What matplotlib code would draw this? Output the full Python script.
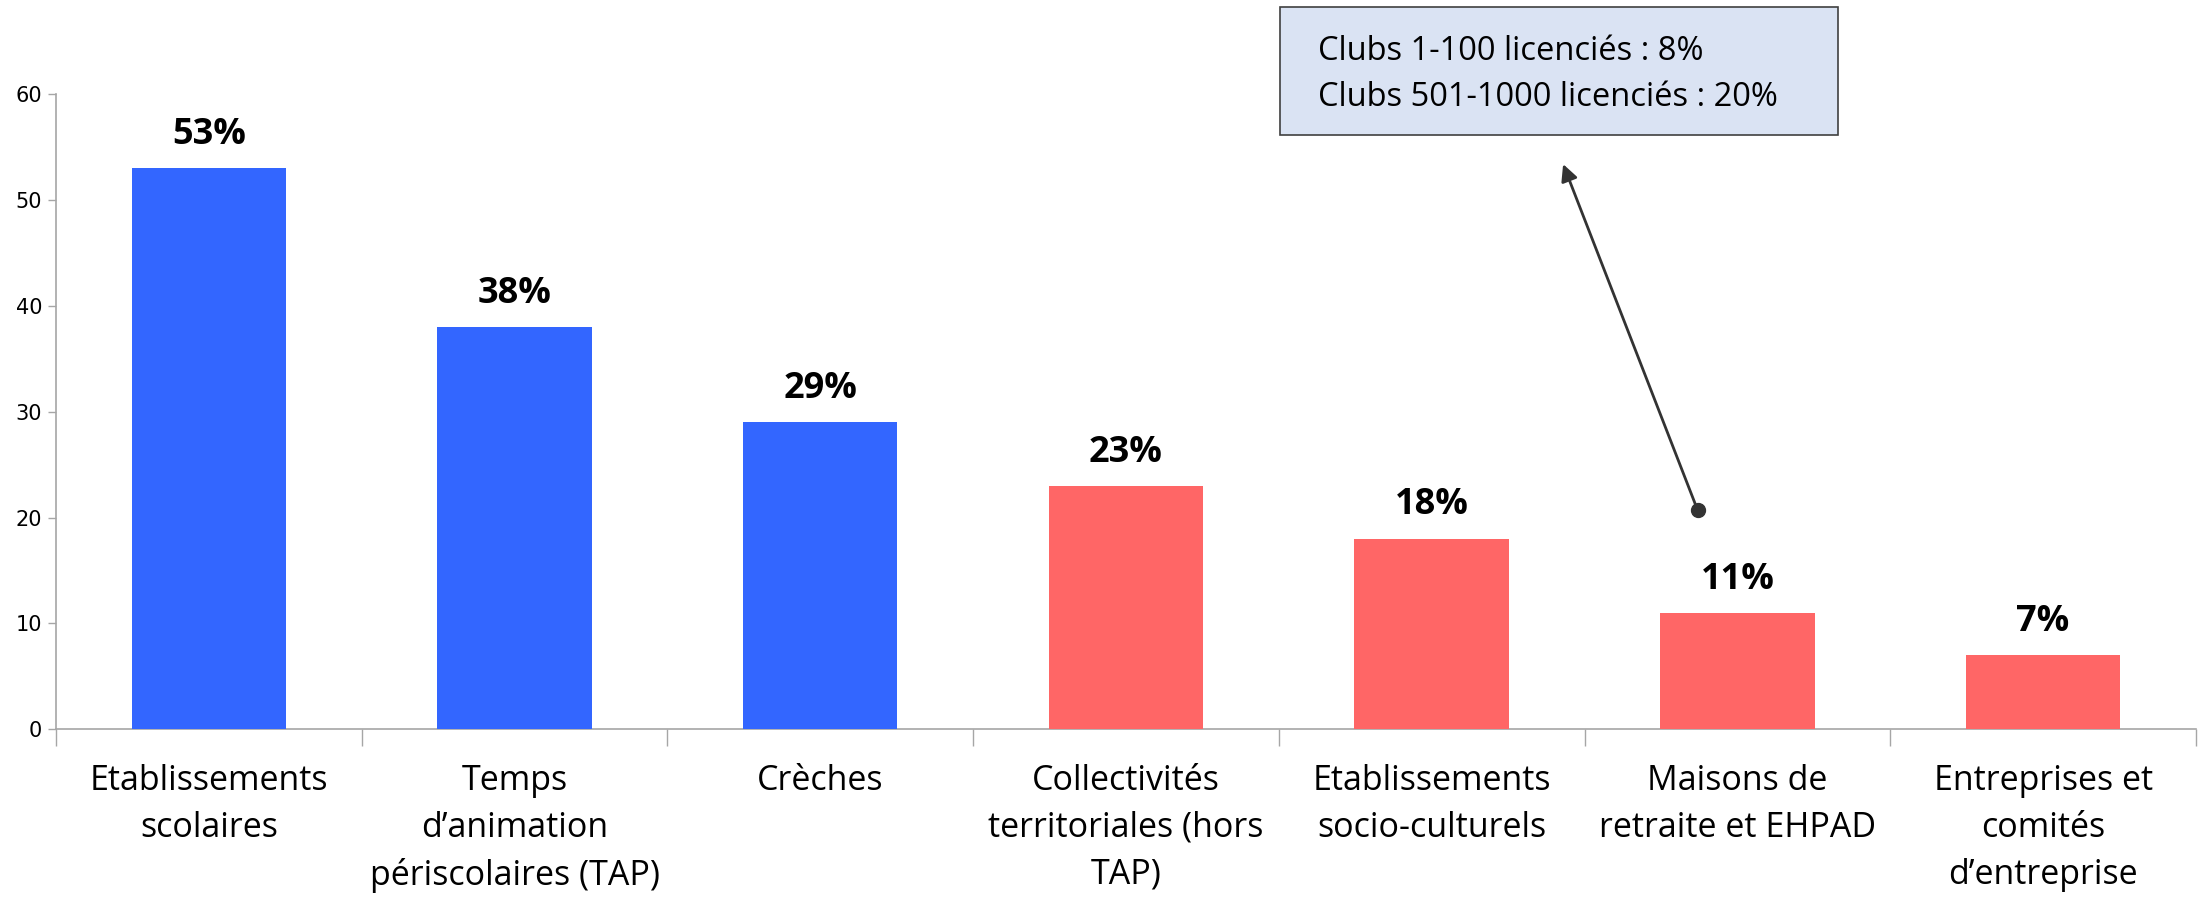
import matplotlib
matplotlib.use("Agg")
import matplotlib.pyplot as plt

categories = [
    "Etablissements\nscolaires",
    "Temps\nd\u2019animation\npériscolaires (TAP)",
    "Crèches",
    "Collectivités\nterritoriales (hors\nTAP)",
    "Etablissements\nsocio-culturels",
    "Maisons de\nretraite et EHPAD",
    "Entreprises et\ncomités\nd\u2019entreprise",
]
values = [53, 38, 29, 23, 18, 11, 7]
groups = ["blue", "blue", "blue", "red", "red", "red", "red"]
yticks = [0, 10, 20, 30, 40, 50, 60]
note_lines = ["Clubs 1-100 licenciés : 8%", "Clubs 501-1000 licenciés : 20%"]

BLUE, RED, AXIS = "#3366ff", "#ff6666", "#a6a6a6"
LABEL_FONT = "Open Sans"

fig = plt.figure(figsize=(22.03, 8.98), dpi=100)
ax = fig.add_axes([0.0254, 0.188, 0.9714, 0.707])

xs = range(len(values))
colors = [BLUE if g == "blue" else RED for g in groups]
ax.bar(xs, values, width=0.505, color=colors, zorder=3)

for x, v in zip(xs, values):
    ax.annotate(f"{v}%", (x, v), xytext=(0, 11), textcoords="offset points",
                ha="center", va="bottom", fontsize=26, fontweight="bold",
                family=LABEL_FONT)

ax.set_xlim(-0.5, len(values) - 0.5)
ax.set_ylim(0, 60)
ax.set_yticks(yticks)
ax.tick_params(axis="y", length=6, width=1, color=AXIS, labelsize=15, pad=4)
ax.set_xticks(list(xs))
ax.set_xticklabels(categories, fontsize=24.5, family=LABEL_FONT, linespacing=1.5)
ax.tick_params(axis="x", which="major", length=0, pad=25)
ax.set_xticks([i - 0.5 for i in range(len(values) + 1)], minor=True)
ax.tick_params(axis="x", which="minor", length=12, width=1, color=AXIS)
for s in ("top", "right"):
    ax.spines[s].set_visible(False)
for s in ("left", "bottom"):
    ax.spines[s].set_color(AXIS)
    ax.spines[s].set_linewidth(1.2)

# callout box with arrow
ax.annotate("", xy=(4.43, 53.4), xytext=(4.87, 20.7),
            arrowprops=dict(arrowstyle="-|>", color="#333333", lw=2,
                            mutation_scale=25, shrinkA=0, shrinkB=0),
            zorder=5)
ax.plot([4.87], [20.7], "o", color="#333333", ms=10, zorder=6, clip_on=False)

fig.patches.append(plt.Rectangle((1280 / 2203, 1 - 135 / 898), 558 / 2203, 128 / 898,
                                 transform=fig.transFigure, facecolor="#dae3f3",
                                 edgecolor="#404040", lw=1.2))
fig.text(1318 / 2203, 1 - 51 / 898, note_lines[0], fontsize=23.5, family=LABEL_FONT,
         va="center", ha="left")
fig.text(1318 / 2203, 1 - 97 / 898, note_lines[1], fontsize=23.5, family=LABEL_FONT,
         va="center", ha="left")

fig.savefig("out.png", dpi=100, facecolor="white")
